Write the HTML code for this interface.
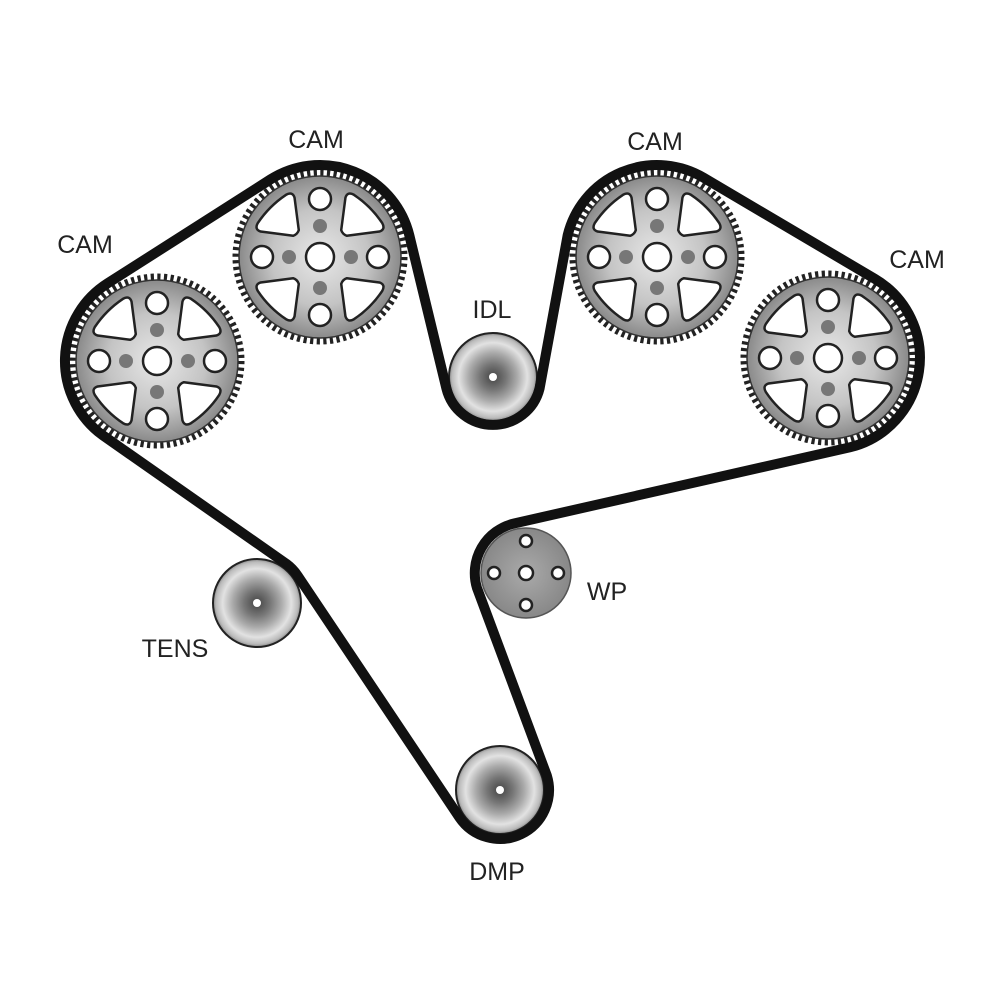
<!DOCTYPE html>
<html><head><meta charset="utf-8"><style>
html,body{margin:0;padding:0;background:#fff;}
svg{display:block}
text{font-family:"Liberation Sans",sans-serif;font-size:25px;fill:#222;text-anchor:middle}
</style></head><body>
<svg width="1000" height="1000" viewBox="0 0 1000 1000" xmlns="http://www.w3.org/2000/svg">
<defs>
<radialGradient id="gg" cx="50%" cy="50%" r="50%">
<stop offset="0" stop-color="#e8e8e8"/><stop offset="0.6" stop-color="#c4c4c4"/><stop offset="1" stop-color="#8a8a8a"/>
</radialGradient>
<radialGradient id="pg" cx="50%" cy="50%" r="50%">
<stop offset="0" stop-color="#444"/><stop offset="0.3" stop-color="#777"/><stop offset="0.55" stop-color="#aaa"/><stop offset="0.78" stop-color="#e2e2e2"/><stop offset="0.93" stop-color="#bbb"/><stop offset="1" stop-color="#888"/>
</radialGradient>
<radialGradient id="wg" cx="50%" cy="50%" r="50%">
<stop offset="0" stop-color="#aaa"/><stop offset="1" stop-color="#888"/>
</radialGradient>
<g id="gear">
<circle r="84" fill="none" stroke="#222" stroke-width="7" stroke-dasharray="3.2 3.4"/>
<circle r="81" fill="url(#gg)" stroke="#333" stroke-width="1.5"/>
<g fill="#fff" stroke="#222" stroke-width="2.5" stroke-linejoin="round">
<path d="M34,-4 Q32,0 34,4 L60,24 Q66,27 68,20 Q72,0 68,-20 Q66,-27 60,-24 Z" transform="rotate(45)"/>
<path d="M34,-4 Q32,0 34,4 L60,24 Q66,27 68,20 Q72,0 68,-20 Q66,-27 60,-24 Z" transform="rotate(135)"/>
<path d="M34,-4 Q32,0 34,4 L60,24 Q66,27 68,20 Q72,0 68,-20 Q66,-27 60,-24 Z" transform="rotate(225)"/>
<path d="M34,-4 Q32,0 34,4 L60,24 Q66,27 68,20 Q72,0 68,-20 Q66,-27 60,-24 Z" transform="rotate(315)"/>
<circle cx="0" cy="-58" r="11"/><circle cx="0" cy="58" r="11"/>
<circle cx="-58" cy="0" r="11"/><circle cx="58" cy="0" r="11"/>
<circle r="14"/>
</g>
<g fill="#777">
<circle cx="0" cy="-31" r="7"/><circle cx="0" cy="31" r="7"/>
<circle cx="-31" cy="0" r="7"/><circle cx="31" cy="0" r="7"/>
</g>
</g>
<g id="pul">
<circle r="44" fill="url(#pg)" stroke="#222" stroke-width="2"/>
<circle r="4" fill="#fff"/>
</g>
</defs>

<use href="#gear" x="157" y="361"/>
<use href="#gear" x="320" y="257"/>
<use href="#gear" x="657" y="257"/>
<use href="#gear" x="828" y="358"/>
<use href="#pul" x="493" y="377"/>
<use href="#pul" x="257" y="603"/>
<use href="#pul" x="500" y="790"/>
<g transform="translate(526,573)">
<circle r="45" fill="url(#wg)" stroke="#555" stroke-width="1.5"/>
<g fill="#fff" stroke="#222" stroke-width="2.5">
<circle r="7"/><circle cx="0" cy="-32" r="6"/><circle cx="0" cy="32" r="6"/><circle cx="-32" cy="0" r="6"/><circle cx="32" cy="0" r="6"/>
</g>
</g>

<path d="M107.5,283.4 L270.5,179.4 A92,92 0 0 1 409.3,235.2 L446.4,388.4 A48,48 0 0 0 539.6,388.4 L567.7,235.2 A92,92 0 0 1 703.8,177.8 L874.8,278.8 A92,92 0 0 1 849.9,447.3 L514,523.5 A51,51 0 0 0 477,588 L546.9,775.8 A49,49 0 0 1 459.4,817.4 L297.6,575.6 A49,49 0 0 0 286.2,563.7 L102.2,434.9 A92,92 0 0 1 107.5,283.4 Z" fill="none" stroke="#111" stroke-width="10" stroke-linejoin="round"/>

<text x="316" y="148">CAM</text>
<text x="85" y="253">CAM</text>
<text x="655" y="150">CAM</text>
<text x="917" y="268">CAM</text>
<text x="492" y="318">IDL</text>
<text x="607" y="600">WP</text>
<text x="175" y="657">TENS</text>
<text x="497" y="880">DMP</text>
</svg>
</body></html>
